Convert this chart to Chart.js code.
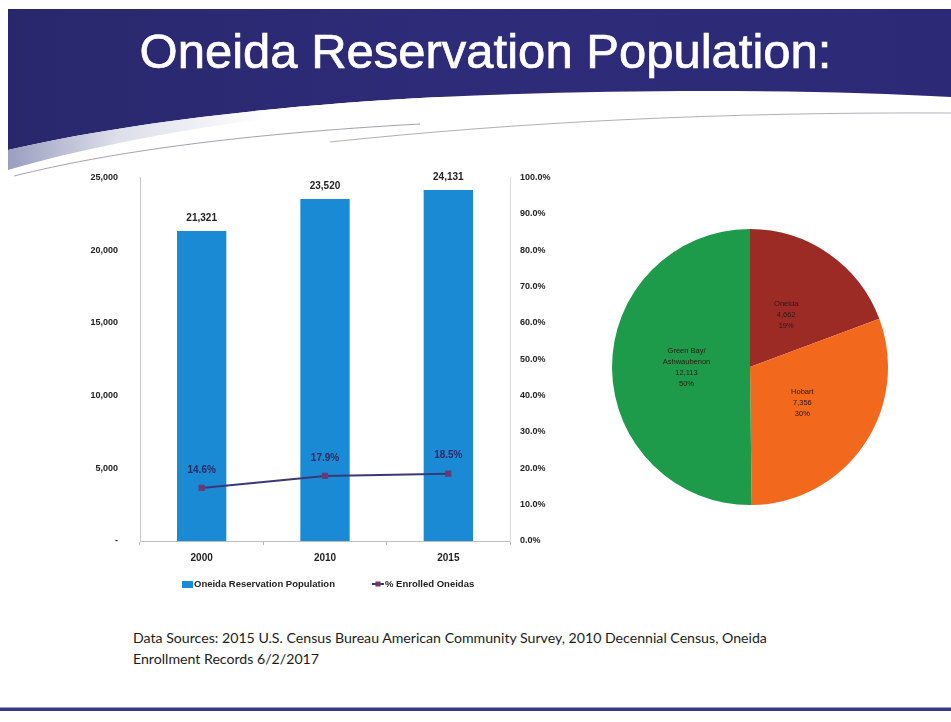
<!DOCTYPE html>
<html>
<head>
<meta charset="utf-8">
<script src="https://cdn.jsdelivr.net/npm/chart.js@4"></script>
<style>
  html, body { margin: 0; padding: 0; width: 951px; height: 722px; overflow: hidden; background: #fff; }
  #bg { position: absolute; left: 0; top: 0; }
  #title {
    position: absolute; left: 0; top: 27px; width: 971px; text-align: center;
    color: #fff; font: 49px/49px 'Liberation Sans', Arial, sans-serif; white-space: nowrap;
    -webkit-text-stroke: 0.7px #fff;
  }
  #barWrap { position: absolute; left: 60px; top: 150px; width: 500px; height: 460px; }
  #pieWrap { position: absolute; left: 610px; top: 227px; width: 280px; height: 280px; }
  #source {
    position: absolute; left: 133px; top: 627px; width: 720px;
    color: #1c1c1c; font: 14.15px/21px Lato, 'Open Sans', sans-serif;
  }
</style>
</head>
<body>
<svg id="bg" width="951" height="722" xmlns="http://www.w3.org/2000/svg">
  <defs>
    <linearGradient id="navy" x1="0" y1="0" x2="1" y2="0">
      <stop offset="0" stop-color="#29276c"/>
      <stop offset="0.5" stop-color="#2e2c79"/>
      <stop offset="1" stop-color="#2c2a76"/>
    </linearGradient>
    <linearGradient id="silver" x1="0" y1="0" x2="1" y2="0">
      <stop offset="0" stop-color="#9a9ec0"/>
      <stop offset="0.25" stop-color="#dcdeea"/>
      <stop offset="0.6" stop-color="#ffffff"/>
    </linearGradient>
  </defs>
  <path d="M8,9 L951,9 L951,97 C820,90 640,88 440,97 C260,106 110,126 8,150 Z" fill="url(#navy)"/>
  <path d="M8,150 C110,126 260,106 440,97 L440,101 C260,114 110,140 8,170 Z" fill="url(#silver)"/>
  <path d="M14,176 C110,152 240,134 420,124" stroke="#8a8a9a" stroke-width="0.8" fill="none"/>
  <path d="M330,142 C520,122 720,112 951,113" stroke="#9a9aa8" stroke-width="0.8" fill="none"/>
  <rect x="0" y="707" width="951" height="1" fill="#9a9ac8"/>
  <rect x="0" y="708" width="951" height="3" fill="#3a3985"/>
</svg>

<div id="title">Oneida Reservation Population:</div>
<div id="barWrap"><canvas id="barChart" width="500" height="460"></canvas></div>
<div id="pieWrap"><canvas id="pieChart" width="280" height="280"></canvas></div>
<div id="source">Data Sources: 2015 U.S. Census Bureau American Community Survey, 2010 Decennial Census, Oneida<br>Enrollment Records 6/2/2017</div>

<script>
// Reservation population by year
const years = ['2000', '2010', '2015'];
const population = [21321, 23520, 24131];
const enrolledPct = [14.6, 17.9, 18.5];
const barLabel = 'Oneida Reservation Population';
const lineLabel = '% Enrolled Oneidas';

// 2015 population by community
const areaNames = [['Oneida'], ['Hobart'], ['Green Bay/', 'Ashwaubenon']];
const areaPopulation = [4662, 7356, 12113];

const FONT = "'Liberation Sans', Arial, sans-serif";
const TEXT = '#222';

const fmt = v => v.toLocaleString('en-US');

// value labels above bars and line points, plus the legend under the axis
const barChartDecor = {
  id: 'barChartDecor',
  afterDatasetsDraw(chart) {
    const ctx = chart.ctx;
    ctx.save();
    ctx.textAlign = 'center';
    ctx.textBaseline = 'middle';
    ctx.font = 'bold 10px ' + FONT;
    chart.getDatasetMeta(0).data.forEach((el, i) => {
      ctx.fillStyle = TEXT;
      ctx.fillText(fmt(chart.data.datasets[0].data[i]), el.x, el.y - 13);
    });
    chart.getDatasetMeta(1).data.forEach((el, i) => {
      ctx.fillStyle = '#2b2a60';
      ctx.fillText(chart.data.datasets[1].data[i].toFixed(1) + '%', el.x, el.y - 18);
    });
    ctx.restore();
  },
  afterDraw(chart) {
    const ctx = chart.ctx;
    const ds = chart.data.datasets;
    const x0 = chart.chartArea.left;
    const y = chart.chartArea.bottom + 43;
    ctx.save();
    ctx.font = 'bold 9.5px ' + FONT;
    ctx.textBaseline = 'middle';
    ctx.textAlign = 'left';
    ctx.fillStyle = ds[0].backgroundColor;
    ctx.fillRect(x0 + 42, y - 3, 11, 7);
    ctx.fillStyle = TEXT;
    ctx.fillText(ds[0].label, x0 + 54, y);
    ctx.strokeStyle = ds[1].borderColor;
    ctx.lineWidth = 2;
    ctx.beginPath();
    ctx.moveTo(x0 + 232, y);
    ctx.lineTo(x0 + 244, y);
    ctx.stroke();
    ctx.fillStyle = ds[1].pointBackgroundColor;
    ctx.fillRect(x0 + 235.5, y - 2.5, 5, 5);
    ctx.fillStyle = TEXT;
    ctx.fillText(ds[1].label, x0 + 245, y);
    ctx.restore();
  }
};

new Chart(document.getElementById('barChart'), {
  type: 'bar',
  data: {
    labels: years,
    datasets: [
      {
        type: 'bar', label: barLabel, data: population, yAxisID: 'y',
        backgroundColor: '#1b8ad5', barPercentage: 0.4, categoryPercentage: 1.0, order: 1
      },
      {
        type: 'line', label: lineLabel, data: enrolledPct, yAxisID: 'y1',
        borderColor: '#3a3878', borderWidth: 2, pointStyle: 'rect', pointRadius: 3,
        pointBackgroundColor: '#6b3a70', pointBorderColor: '#6b3a70', order: 0
      }
    ]
  },
  options: {
    responsive: false, animation: false, devicePixelRatio: 1,
    layout: { padding: { top: 13, bottom: 41, left: 0, right: 0 } },
    plugins: { legend: { display: false }, tooltip: { enabled: false } },
    scales: {
      x: {
        grid: { display: true, drawOnChartArea: false, offset: true, tickLength: 4, color: '#bdbdbd' },
        border: { color: '#bdbdbd' },
        ticks: { padding: 7, color: TEXT, font: { family: FONT, size: 10, weight: 'bold' } },
        afterFit: s => { s.height = 28; }
      },
      y: {
        position: 'left', min: 0, max: 25000,
        grid: { display: false, drawTicks: false },
        border: { color: '#c8c8c8' },
        ticks: {
          stepSize: 5000, padding: 22, color: TEXT,
          font: { family: FONT, size: 9, weight: 'bold' },
          callback: v => v === 0 ? '-' : fmt(v)
        },
        afterFit: s => { s.width = 80; }
      },
      y1: {
        position: 'right', min: 0, max: 100,
        grid: { display: false, drawTicks: false },
        border: { color: '#dcdcdc' },
        ticks: {
          stepSize: 10, padding: 10, color: TEXT,
          font: { family: FONT, size: 9, weight: 'bold' },
          callback: v => v.toFixed(1) + '%'
        },
        afterFit: s => { s.width = 50; }
      }
    }
  },
  plugins: [barChartDecor]
});

// name, count and share printed inside each slice
const pieLabels = {
  id: 'pieLabels',
  afterDatasetsDraw(chart) {
    const ctx = chart.ctx;
    const data = chart.data.datasets[0].data;
    const total = data.reduce((a, b) => a + b, 0);
    ctx.save();
    ctx.font = '7.5px ' + FONT;
    ctx.fillStyle = '#2a1a14';
    ctx.textAlign = 'center';
    ctx.textBaseline = 'middle';
    chart.getDatasetMeta(0).data.forEach((arc, i) => {
      const mid = (arc.startAngle + arc.endAngle) / 2;
      const r = arc.outerRadius * 0.46;
      const cx = arc.x + Math.cos(mid) * r;
      const cy = arc.y + Math.sin(mid) * r;
      const lines = areaNames[i].concat([fmt(data[i]), Math.round(data[i] / total * 100) + '%']);
      const lh = 10.8;
      lines.forEach((t, k) => ctx.fillText(t, cx, cy + (k - (lines.length - 1) / 2) * lh));
    });
    ctx.restore();
  }
};

new Chart(document.getElementById('pieChart'), {
  type: 'pie',
  data: {
    labels: areaNames.map(n => n.join(' ')),
    datasets: [{
      data: areaPopulation,
      backgroundColor: ['#9c2b25', '#f2691e', '#1e9a4b'],
      borderWidth: 0
    }]
  },
  options: {
    responsive: false, animation: false, devicePixelRatio: 1,
    layout: { padding: 2 },
    plugins: { legend: { display: false }, tooltip: { enabled: false } }
  },
  plugins: [pieLabels]
});
</script>
</body>
</html>
